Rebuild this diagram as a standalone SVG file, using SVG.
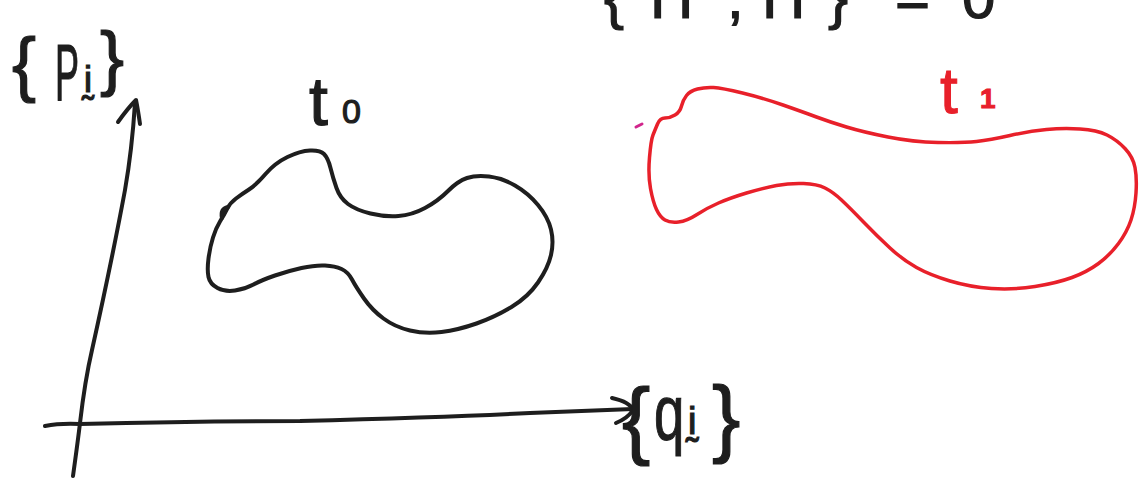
<svg xmlns="http://www.w3.org/2000/svg" width="1142" height="482" viewBox="0 0 1142 482">
<style>
.ink{fill:none;stroke:#1e1e1e;stroke-width:4;stroke-linecap:round;stroke-linejoin:round}
.red{fill:none;stroke:#e8202a;stroke-width:3.5;stroke-linecap:round;stroke-linejoin:round}
.lbl{font-family:"Liberation Sans","DejaVu Sans",sans-serif;fill:#1e1e1e;stroke:#1e1e1e;stroke-width:1.2}
.rlbl{font-family:"Liberation Sans","DejaVu Sans",sans-serif;fill:#e8202a;stroke:#e8202a;stroke-width:1}
</style>
<rect width="1142" height="482" fill="#ffffff"/>
<g id="top-formula">
<text class="lbl" font-size="60" y="18"><tspan x="604">{</tspan><tspan x="650">H</tspan><tspan x="727">,</tspan><tspan x="762">H</tspan><tspan x="828">}</tspan><tspan x="895">=</tspan><tspan x="962">0</tspan></text>
</g>
<g id="axes">
<path class="ink" d="M73 476 Q78 440 80 423 Q85 380 92 350 Q112 260 125 190 Q132 150 135 103"/>
<path class="ink" d="M118 122 Q128 108 136 100 Q138 110 140 124"/>
<path class="ink" d="M45 426 Q60 423 80 424 Q200 421 300 421 Q450 417 530 413 Q580 411 633 409"/>
<path class="ink" stroke-width="6" d="M612 398 Q630 402 633 410 Q628 418 616 423"/>
</g>
<g id="label-p">
<text class="lbl" font-size="72" x="12" y="88">{</text>
<text class="lbl" font-size="80" transform="translate(55 100) scale(0.45 1)">P</text>
<text class="lbl" font-size="36" x="84" y="92">ḭ</text>
<text class="lbl" font-size="72" x="100" y="82">}</text>
</g>
<g id="label-q">
<text class="lbl" font-size="85" x="622" y="448">{</text>
<text class="lbl" font-size="78" transform="translate(654 440) scale(0.7 1)">q</text>
<text class="lbl" font-size="38" x="688" y="434">ḭ</text>
<text class="lbl" font-size="85" x="712" y="446">}</text>
</g>
<g id="region-t0">
<path class="ink" d="M220 221.5 Q224 215 227 209 Q230 203 236 198.5 Q242 194 249 189.5 Q256 185 265.5 174 Q275 163 287.5 157 Q300 151 310 150.5 Q320 150 324 154 Q328 158 330.5 168 Q333 178 336.5 188 Q340 198 348 204 Q356 210 370.5 213.5 Q385 217 398.5 216 Q412 215 425 208 Q438 201 448 191 Q458 181 467 178 Q476 175 489 176.5 Q502 178 515 185.5 Q528 193 538 205 Q548 217 551 229.5 Q554 242 551 255 Q548 268 538 282.5 Q528 297 511.5 307 Q495 317 476.5 323.5 Q458 330 441.5 332 Q425 334 410 330.5 Q395 327 383.5 318.5 Q372 310 364 298.5 Q356 287 352 279.5 Q348 272 341.5 269 Q335 266 325 265.5 Q315 265 301.5 268 Q288 271 275 275.5 Q262 280 253.5 284.5 Q245 289 235 290.5 Q225 292 217.5 288 Q210 284 208.5 277 Q207 270 208.5 258.5 Q210 247 213 237.5 Q216 228 220 221.5"/>
<path class="ink" d="M228 207 Q220 209 222 218"/>
<text class="lbl" font-size="68" x="309" y="125">t</text>
<text class="lbl" font-size="34" x="342" y="123">0</text>
</g>
<g id="region-t1">
<path class="red" d="M653 135 Q655 130 657.5 124 Q660 118 665 118 Q670 118 675 115 Q680 112 681.5 106 Q683 100 686.5 95.5 Q690 91 697.5 89 Q705 87 713.5 87.5 Q722 88 742.5 93 Q763 98 783 105 Q803 112 816.5 117 Q830 122 846.5 127 Q863 132 888 137 Q913 142 938 142.5 Q963 143 976.5 141.5 Q990 140 1010 135.5 Q1030 131 1046.5 129.5 Q1063 128 1080 129 Q1097 130 1107 135 Q1117 140 1125 148.5 Q1133 157 1135 167.5 Q1137 178 1136 193 Q1135 208 1131 220 Q1127 232 1118.5 243.5 Q1110 255 1098.5 263.5 Q1087 272 1072 277.5 Q1057 283 1035 286.5 Q1013 290 991.5 288.5 Q970 287 950 281 Q930 275 916.5 267.5 Q903 260 890 248 Q877 236 863.5 222 Q850 208 841.5 200 Q833 192 825 188 Q817 184 803.5 183.5 Q790 183 776.5 185.5 Q763 188 746.5 193 Q730 198 718.5 203 Q707 208 697 214.5 Q687 221 678.5 222 Q670 223 665 220 Q660 217 656.5 209.5 Q653 202 650.5 188.5 Q648 175 649.5 157.5 Q651 140 653 135"/>
<path fill="none" stroke="#d1268c" stroke-width="3" stroke-linecap="round" d="M636 127 L642 124"/>
<text class="rlbl" font-size="64" x="940" y="113">t</text>
<text class="rlbl" font-size="28" font-weight="bold" x="980" y="108">1</text>
</g>
</svg>
